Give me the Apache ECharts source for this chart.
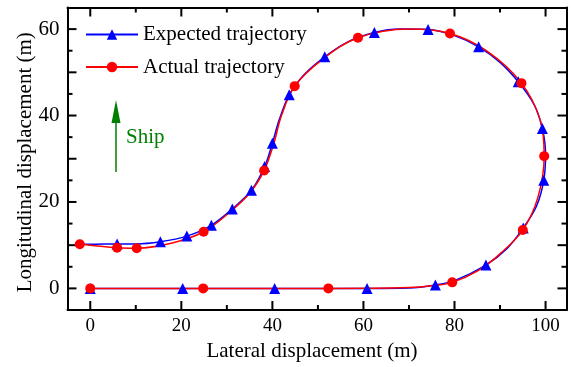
<!DOCTYPE html>
<html>
<head>
<meta charset="utf-8">
<script src="https://cdn.jsdelivr.net/npm/echarts@6/dist/echarts.min.js"></script>
<style>
  html, body { margin: 0; padding: 0; background: #fff; }
  #chart { width: 571px; height: 367px; }
</style>
</head>
<body>
<div id="chart"></div>
<script>
// Path of the planned route (x = lateral, y = longitudinal, metres)
const expectedPath = [
  [0, 0], [20.3, 0], [40.5, 0], [60.8, 0], [70, 0.1], [75.8, 0.8], [80, 1.8],
  [86.9, 5.4], [91.5, 9.2], [95.1, 14.0], [98, 19], [99.6, 25], [100, 31],
  [99.3, 37], [97.5, 42.5], [94.0, 47.8], [90, 52.3], [85.3, 55.9], [80, 58.5],
  [74.2, 59.9], [68, 60], [62.4, 59.2], [56.5, 57], [51.5, 53.6], [47, 49.5],
  [43.7, 44.8], [41.5, 39], [40.0, 33.6], [38.3, 28.2], [35.4, 22.7],
  [31.2, 18.4], [26.6, 14.6], [21.2, 12.1], [15.4, 10.8], [10, 10.3],
  [5.9, 10.3], [0, 10.2], [-2.3, 10.2]
];
// Sample points marked with triangles on the planned route
const expectedMarks = [
  [0, 0], [20.3, 0], [40.5, 0], [60.8, 0], [75.8, 0.8], [86.9, 5.4],
  [95.1, 14.0], [99.6, 25], [99.3, 37], [94.0, 47.8], [85.3, 55.9],
  [74.2, 59.9], [62.4, 59.2], [51.5, 53.6], [43.7, 44.8], [40.0, 33.6],
  [38.3, 28.2], [35.4, 22.7], [31.2, 18.4], [26.6, 14.6], [21.2, 12.1],
  [15.4, 10.8], [5.9, 10.3]
];

// Path actually sailed
const actualPath = [
  [0, 0], [24.8, 0], [52.3, 0], [70, 0.2], [75, 0.6], [79.5, 1.4], [85, 4],
  [90, 8], [95.0, 13.5], [98.3, 21], [99.7, 30.6], [98.8, 39], [94.7, 47.5],
  [87, 55], [79.0, 59.0], [70, 60], [58.8, 58.0], [51, 53], [44.9, 46.8],
  [42, 40], [40.3, 33.5], [38.2, 27.3], [35, 22], [30.5, 17.5], [24.9, 13.1],
  [18, 10.5], [10.2, 9.3], [5.9, 9.4], [0, 10], [-2.3, 10.2]
];
// Sample points marked with circles on the sailed path
const actualMarks = [
  [0, 0], [24.8, 0], [52.3, 0], [79.5, 1.4], [95.0, 13.5], [99.7, 30.6],
  [94.7, 47.5], [79.0, 59.0], [58.8, 58.0], [44.9, 46.8], [38.2, 27.3],
  [24.9, 13.1], [10.2, 9.3], [5.9, 9.4], [-2.3, 10.2]
];

// Tick positions (long ticks carry labels every 20 on x, every 20 on y)
const xMajor = [0, 20, 40, 60, 80, 100];
const xMinor = [10, 30, 50, 70, 90];
const yMajor = [0, 10, 20, 30, 40, 50, 60];
const yMinor = [5, 15, 25, 35, 45, 55];
const yLabels = [0, 20, 40, 60];

const seriesNames = ['Expected trajectory', 'Actual trajectory'];

const FONT = 'Liberation Serif';
const X_MIN = -5, X_MAX = 104.6, Y_MIN = -5, Y_MAX = 65;
const LONG_TICK = 9, SHORT_TICK = 5;

// Mark only the sample points; everything else is plain path
function withMarks(path, marks) {
  const key = p => p[0] + ',' + p[1];
  const marked = new Set(marks.map(key));
  return path.map(p => marked.has(key(p)) ? { value: p } : { value: p, symbol: 'none' });
}

// Tick rows: [orientation (0 = on x axes, 1 = on y axes), value, length]
const tickRows = []
  .concat(xMajor.map(v => [0, v, LONG_TICK]))
  .concat(xMinor.map(v => [0, v, SHORT_TICK]))
  .concat(yMajor.map(v => [1, v, LONG_TICK]))
  .concat(yMinor.map(v => [1, v, SHORT_TICK]));

// Inward ticks on all four sides of the frame, placed through the axes' scales
function renderTick(params, api) {
  const side = api.value(0), v = api.value(1), len = api.value(2);
  const style = { stroke: '#000', lineWidth: 2 };
  let a, b, s1, s2;
  if (side === 0) {
    a = api.coord([v, Y_MIN]); b = api.coord([v, Y_MAX]);
    s1 = { x1: a[0], y1: a[1], x2: a[0], y2: a[1] - len };
    s2 = { x1: b[0], y1: b[1], x2: b[0], y2: b[1] + len };
  } else {
    a = api.coord([X_MIN, v]); b = api.coord([X_MAX, v]);
    s1 = { x1: a[0], y1: a[1], x2: a[0] + len, y2: a[1] };
    s2 = { x1: b[0], y1: b[1], x2: b[0] - len, y2: b[1] };
  }
  return {
    type: 'group',
    children: [
      { type: 'line', shape: s1, style: style },
      { type: 'line', shape: s2, style: style }
    ]
  };
}

const frameLine = () => ({ show: true, onZero: false, lineStyle: { color: '#000', width: 2 } });

const chart = echarts.init(document.getElementById('chart'), null, { renderer: 'canvas' });
chart.setOption({
  animation: false,
  backgroundColor: '#fff',
  grid: { left: 67.5, right: 4.5, top: 7.5, bottom: 55.5, containLabel: false },
  legend: {
    data: seriesNames,
    orient: 'vertical',
    left: 85, top: 24, padding: 0,
    itemWidth: 52, itemHeight: 13, itemGap: 11.5,
    textStyle: { fontFamily: FONT, fontSize: 21, color: '#000' }
  },
  xAxis: [
    {
      type: 'value', position: 'bottom', min: X_MIN, max: X_MAX,
      axisLine: frameLine(), axisTick: { show: false }, splitLine: { show: false },
      axisLabel: { show: true, customValues: xMajor, margin: 7,
                   fontFamily: FONT, fontSize: 19, color: '#000' },
      name: 'Lateral displacement (m)', nameLocation: 'middle', nameGap: 31,
      nameMoveOverlap: false,
      nameTextStyle: { fontFamily: FONT, fontSize: 21, color: '#000', padding: [0, 10, 0, 0] }
    },
    {
      type: 'value', position: 'top', min: X_MIN, max: X_MAX,
      axisLine: frameLine(), axisTick: { show: false }, splitLine: { show: false },
      axisLabel: { show: false }
    }
  ],
  yAxis: [
    {
      type: 'value', position: 'left', min: Y_MIN, max: Y_MAX,
      axisLine: frameLine(), axisTick: { show: false }, splitLine: { show: false },
      axisLabel: { show: true, customValues: yLabels, margin: 8,
                   fontFamily: FONT, fontSize: 21, color: '#000' },
      name: 'Longitudinal displacement (m)', nameLocation: 'middle', nameGap: 32,
      nameMoveOverlap: false,
      nameTextStyle: { fontFamily: FONT, fontSize: 21, color: '#000', padding: [0, 7, 0, 0] }
    },
    {
      type: 'value', position: 'right', min: Y_MIN, max: Y_MAX,
      axisLine: frameLine(), axisTick: { show: false }, splitLine: { show: false },
      axisLabel: { show: false }
    }
  ],
  series: [
    {
      type: 'custom', name: 'ticks', xAxisIndex: 0, yAxisIndex: 0,
      data: tickRows, renderItem: renderTick, silent: true, clip: false,
      legendHoverLink: false, z: 3
    },
    {
      name: seriesNames[0], type: 'line', xAxisIndex: 0, yAxisIndex: 0,
      data: withMarks(expectedPath, expectedMarks),
      smooth: 0.35, symbol: 'triangle', symbolSize: 11, showAllSymbol: true,
      lineStyle: { color: '#0000ff', width: 1.5 },
      itemStyle: { color: '#0000ff' }
    },
    {
      name: seriesNames[1], type: 'line', xAxisIndex: 0, yAxisIndex: 0,
      data: withMarks(actualPath, actualMarks),
      smooth: 0.35, symbol: 'circle', symbolSize: 10, showAllSymbol: true,
      lineStyle: { color: '#ff0000', width: 1.5 },
      itemStyle: { color: '#ff0000' }
    }
  ],
  graphic: [
    // heading arrow
    { type: 'line', shape: { x1: 116, y1: 172, x2: 116, y2: 118 },
      style: { stroke: '#008000', lineWidth: 1.5 } },
    { type: 'polygon', shape: { points: [[116, 100], [111.5, 123], [120.5, 123]] },
      style: { fill: '#008000' } },
    { type: 'text', left: 126, top: 127,
      style: { text: 'Ship', fill: '#008000', font: '21px "Liberation Serif"' } }
  ]
});
</script>
</body>
</html>
